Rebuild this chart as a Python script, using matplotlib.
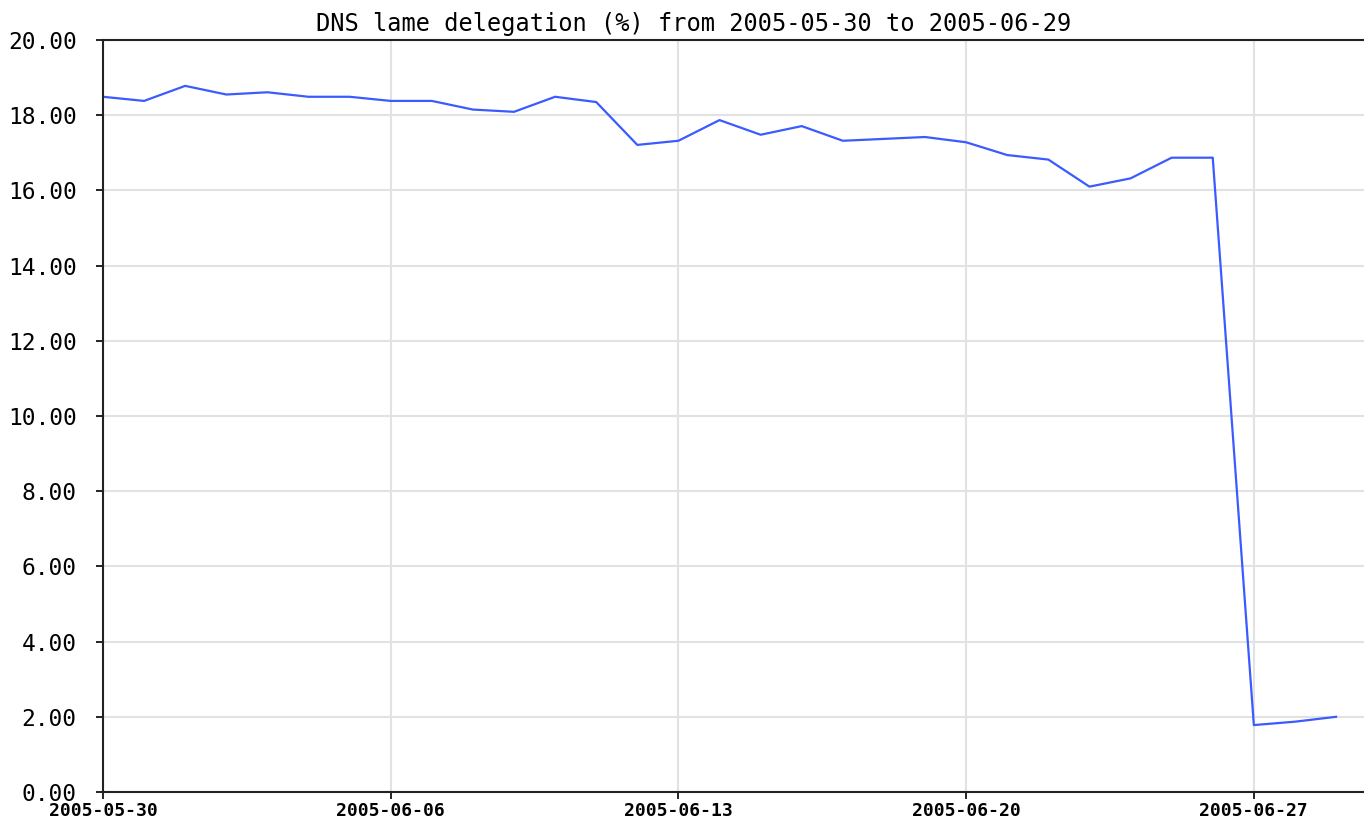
import pandas as pd
import matplotlib.pyplot as plt

# daily lame delegation percentage, 2005-05-30 .. 2005-06-29
dates = pd.date_range('2005-05-30', '2005-06-29', freq='D')
lame_pct = [18.49, 18.38, 18.78, 18.55, 18.61, 18.49, 18.49, 18.38, 18.38, 18.15,
            18.09, 18.49, 18.35, 17.21, 17.32, 17.87, 17.48, 17.71, 17.32, 17.37,
            17.42, 17.28, 16.94, 16.82, 16.10, 16.32, 16.87, 16.87, 1.78, 1.87,
            2.00]
tick_dates = pd.to_datetime(['2005-05-30', '2005-06-06', '2005-06-13', '2005-06-20', '2005-06-27'])
y_ticks = [0, 2, 4, 6, 8, 10, 12, 14, 16, 18, 20]

mono = 'DejaVu Sans Mono'

fig = plt.figure(figsize=(13.64, 8.22), dpi=100)
ax = fig.add_axes([103 / 1364, 30 / 822, 1 - 103 / 1364, (792 - 40) / 822])

ax.plot(dates, lame_pct, color='#3a5bff', linewidth=1.6)

ax.set_ylim(0, 20)
ax.set_xlim(dates[0], dates[0] + pd.Timedelta(days=30.68))
ax.set_yticks(y_ticks)
ax.set_yticklabels([f'{v:.2f}' for v in y_ticks], family=mono, fontsize=16.5)
ax.set_xticks(tick_dates)
ax.set_xticklabels([d.strftime('%Y-%m-%d') for d in tick_dates], family=mono,
                   fontsize=13, fontweight='bold')
ax.tick_params(axis='y', length=5, width=1.2, pad=14, color='black')
ax.tick_params(axis='x', length=5, width=1.2, pad=2, color='black')

ax.grid(True, color='#e2e2e2', linewidth=1.5)
ax.set_axisbelow(True)
ax.spines['right'].set_visible(False)
for s in ['left', 'bottom', 'top']:
    ax.spines[s].set_linewidth(1.5)
    ax.spines[s].set_color('#222222')

fig.text(694 / 1364, 1 - 24 / 822, 'DNS lame delegation (%) from 2005-05-30 to 2005-06-29',
         ha='center', va='center', family=mono, fontsize=17)

fig.savefig('out.png', dpi=100)
